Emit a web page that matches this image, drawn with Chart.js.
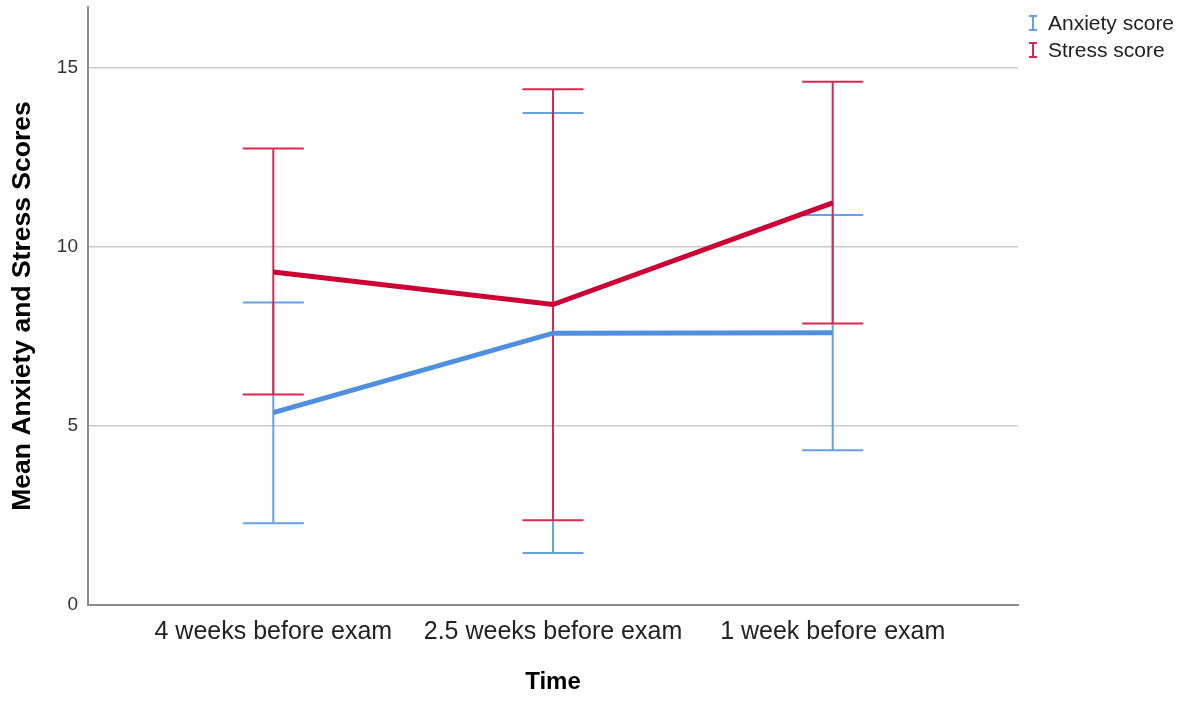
<!DOCTYPE html>
<html>
<head>
<meta charset="utf-8">
<script src="https://cdn.jsdelivr.net/npm/chart.js@4.4.1/dist/chart.umd.min.js"></script>
<style>
  html, body { margin: 0; padding: 0; background: #ffffff; }
  #wrap { width: 1188px; height: 702px; position: relative; }
</style>
</head>
<body>
<div id="wrap"><canvas id="chart" width="1188" height="702"></canvas></div>
<script>
// Time points of the survey
const categories = ['4 weeks before exam', '2.5 weeks before exam', '1 week before exam'];

// Mean scores with their error-bar limits
const anxietyMean = [5.37, 7.59, 7.60];
const anxietyLow  = [2.28, 1.45, 4.32];
const anxietyHigh = [8.45, 13.74, 10.89];

const stressMean = [9.30, 8.39, 11.23];
const stressLow  = [5.88, 2.37, 7.86];
const stressHigh = [12.75, 14.40, 14.61];

const yTicks = [0, 5, 10, 15];

const BLUE = 'rgb(79,144,222)';
const RED = 'rgb(204,0,52)';
const FONT = "'Liberation Sans', Arial, sans-serif";

const toPoints = arr => arr.map((v, i) => ({ x: i, y: v }));

// Error bars drawn through the chart's own scales
const errorBarPlugin = {
  id: 'errorBars',
  beforeDatasetsDraw(chart) {
    const { ctx, scales: { x, y } } = chart;
    const capHalf = 30.5;
    chart.data.datasets.forEach(ds => {
      ctx.save();
      ctx.strokeStyle = ds.errorColor;
      ctx.lineWidth = 2;
      ds.low.forEach((lo, i) => {
        const px = x.getPixelForValue(i);
        const pLo = y.getPixelForValue(lo);
        const pHi = y.getPixelForValue(ds.high[i]);
        ctx.beginPath();
        ctx.moveTo(px, pLo); ctx.lineTo(px, pHi);
        ctx.moveTo(px - capHalf, pLo); ctx.lineTo(px + capHalf, pLo);
        ctx.moveTo(px - capHalf, pHi); ctx.lineTo(px + capHalf, pHi);
        ctx.stroke();
      });
      ctx.restore();
    });
  }
};

// Legend with error-bar symbols in the upper right corner
const legendPlugin = {
  id: 'errorLegend',
  afterDraw(chart) {
    const { ctx } = chart;
    const x0 = 1033, rowH = 27, y0 = 23;
    chart.data.datasets.forEach((ds, k) => {
      const cy = y0 + k * rowH;
      ctx.save();
      ctx.strokeStyle = ds.errorColor;
      ctx.lineWidth = 2;
      ctx.beginPath();
      ctx.moveTo(x0, cy - 7); ctx.lineTo(x0, cy + 7);
      ctx.moveTo(x0 - 4, cy - 7); ctx.lineTo(x0 + 4, cy - 7);
      ctx.moveTo(x0 - 4, cy + 7); ctx.lineTo(x0 + 4, cy + 7);
      ctx.stroke();
      ctx.fillStyle = '#222';
      ctx.font = '21px ' + FONT;
      ctx.textBaseline = 'middle';
      ctx.textAlign = 'left';
      ctx.fillText(ds.label, 1048, cy + 1);
      ctx.restore();
    });
  }
};

new Chart(document.getElementById('chart'), {
  type: 'line',
  data: {
    datasets: [
      {
        label: 'Anxiety score',
        data: toPoints(anxietyMean),
        low: anxietyLow, high: anxietyHigh,
        borderColor: BLUE, errorColor: 'rgb(104,160,230)',
        borderWidth: 5, pointRadius: 0, tension: 0, fill: false
      },
      {
        label: 'Stress score',
        data: toPoints(stressMean),
        low: stressLow, high: stressHigh,
        borderColor: RED, errorColor: 'rgb(214,40,80)',
        borderWidth: 5, pointRadius: 0, tension: 0, fill: false
      }
    ]
  },
  options: {
    responsive: false,
    animation: false,
    devicePixelRatio: 1,
    layout: { padding: { left: 0, right: 170, top: 7, bottom: 0 } },
    plugins: {
      legend: { display: false },
      tooltip: { enabled: false }
    },
    scales: {
      x: {
        type: 'linear',
        min: -0.6625, max: 2.6625,
        afterBuildTicks: s => { s.ticks = categories.map((_, i) => ({ value: i })); },
        afterFit: s => { s.height = 97; s.paddingLeft = 0; s.paddingRight = 0; },
        ticks: {
          callback: v => categories[v],
          font: { family: FONT, size: 25 },
          color: '#222',
          padding: 12,
          maxRotation: 0, autoSkip: false
        },
        grid: { display: false, drawTicks: false },
        border: { display: true, color: '#8c8c8c', width: 2 },
        title: {
          display: true, text: 'Time',
          font: { family: FONT, size: 24, weight: 'bold' },
          color: '#000',
          padding: { top: 0, bottom: 5 }
        }
      },
      y: {
        min: 0, max: 16.7,
        afterBuildTicks: s => { s.ticks = yTicks.map(v => ({ value: v })); },
        afterFit: s => { s.width = 88; s.paddingTop = 0; s.paddingBottom = 0; },
        ticks: {
          font: { family: FONT, size: 19 },
          color: '#333',
          padding: 10
        },
        grid: { color: '#c9c9c9', lineWidth: 1.5, drawTicks: false },
        border: { display: true, color: '#8c8c8c', width: 2 },
        title: {
          display: true, text: 'Mean Anxiety and Stress Scores',
          font: { family: FONT, size: 26.5, weight: 'bold' },
          color: '#000',
          padding: { top: 7, bottom: 0 }
        }
      }
    }
  },
  plugins: [errorBarPlugin, legendPlugin]
});
</script>
</body>
</html>
